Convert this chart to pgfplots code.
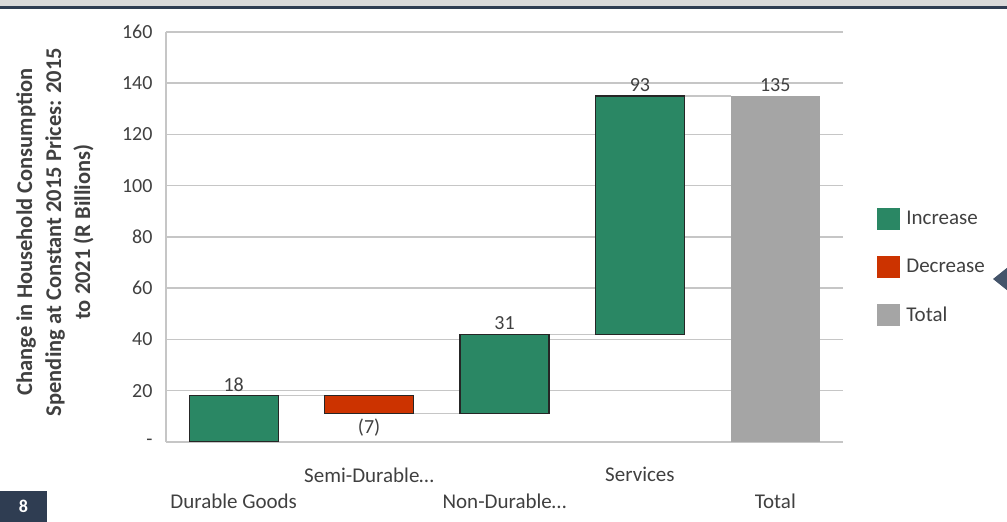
\documentclass[border=0pt]{standalone}
\usepackage{pgfplots}
\pgfplotsset{compat=1.18}
\usepackage{fontspec}
\setmainfont{Carlito}
\definecolor{incC}{HTML}{2A8764}
\definecolor{decC}{HTML}{CC3300}
\definecolor{totC}{HTML}{A5A5A5}
\definecolor{gridC}{HTML}{C6C6C6}
\definecolor{txtC}{HTML}{404040}
\definecolor{navy}{HTML}{2F3D52}
\definecolor{bandC}{HTML}{DADADA}
\definecolor{triC}{HTML}{44546A}
\pgfplotsset{
  mybar/.style={ybar, bar width=89pt, bar shift=0pt,
    legend image code/.code={\path[##1,draw=none] (0pt,-11pt) rectangle (23pt,11pt);}},
}
\begin{document}
\begin{tikzpicture}
\path[use as bounding box] (0pt,0pt) rectangle (1007pt,522pt);
\fill[bandC] (0pt,515pt) rectangle (1007pt,522pt);
\fill[navy] (0pt,513pt) rectangle (1007pt,515.5pt);
\fill[navy] (0pt,0pt) rectangle (47pt,31pt);
\node[white, font=\fontsize{18}{20}\selectfont\bfseries] at (23.5pt,15.5pt) {8};
\fill[triC] (993pt,243pt) -- (1008pt,255pt) -- (1008pt,231pt) -- cycle;
\begin{axis}[
  at={(166pt,80pt)}, anchor=south west, scale only axis,
  width=677pt, height=410pt,
  xmin=-0.5, xmax=4.5, ymin=0, ymax=160,
  axis x line*=bottom, axis y line*=left,
  axis line style={gridC, line width=1.5pt},
  ymajorgrids, grid style={gridC, line width=1.5pt},
  major tick length=0pt,
  ytick={0,20,40,60,80,100,120,140,160},
  yticklabels={-,20,40,60,80,100,120,140,160},
  yticklabel style={font=\fontsize{20}{24}\selectfont, text=txtC, xshift=-10pt},
  xtick={0,1,2,3,4},
  xticklabels={{\strut\\[-5pt]Durable Goods}, {Semi-Durable…}, {\strut\\[-5pt]Non-Durable…}, {Services}, {\strut\\[-5pt]Total}},
  xticklabel style={font=\fontsize{21}{27}\selectfont, text=txtC, align=center, yshift=-22pt},
  ylabel={Change in Household Consumption\\Spending at Constant 2015 Prices: 2015\\to 2021 (R Billions)},
  ylabel style={at={(axis description cs:-0.164,0.512)}, anchor=center, align=center,
    font=\fontsize{22.5}{29}\selectfont\bfseries, text=txtC},
  legend style={at={(1.046,0.427)}, anchor=west, draw=none, fill=none,
    font=\fontsize{21}{24}\selectfont, text=txtC, row sep=26pt,
    /tikz/every odd column/.append style={column sep=4pt},
    /tikz/every even column/.append style={column sep=6pt}},
  legend cell align=left,
]
% connectors
\addplot[gridC, line width=1.2pt, forget plot] coordinates {(0.33,18) (0.67,18)};
\addplot[gridC, line width=1.2pt, forget plot] coordinates {(1.33,11) (1.67,11)};
\addplot[gridC, line width=1.2pt, forget plot] coordinates {(2.33,42) (2.67,42)};
\addplot[gridC, line width=1.2pt, forget plot] coordinates {(3.33,135) (3.67,135)};
% waterfall: invisible base, then increase and decrease, stacked
\addplot[mybar, stack plots=y, draw=none, fill=none, forget plot] coordinates {(0,0) (1,11) (2,11) (3,42)};
\addplot[mybar, stack plots=y, fill=incC, draw=black!85, line width=1.2pt] coordinates {(0,18) (1,0) (2,31) (3,93)};
\addlegendentry{Increase}
\addplot[mybar, stack plots=y, fill=decC, draw=black!85, line width=1.2pt] coordinates {(0,0) (1,7) (2,0) (3,0)};
\addlegendentry{Decrease}
\addplot[mybar, stack plots=false, fill=totC, draw=none] coordinates {(4,135)};
\addlegendentry{Total}
% value labels
\addplot[only marks, mark=none, forget plot, stack plots=false, point meta=explicit symbolic,
  nodes near coords, nodes near coords style={font=\fontsize{20}{24}\selectfont, text=txtC, anchor=south, yshift=1pt}]
  coordinates {(0,18) [18] (2,42) [31] (3,135) [93] (4,135) [135]};
\addplot[only marks, mark=none, forget plot, stack plots=false, point meta=explicit symbolic,
  nodes near coords, nodes near coords style={font=\fontsize{20}{24}\selectfont, text=txtC, anchor=north, yshift=-2pt}]
  coordinates {(1,11) [(7)]};
\end{axis}
\end{tikzpicture}
\end{document}
